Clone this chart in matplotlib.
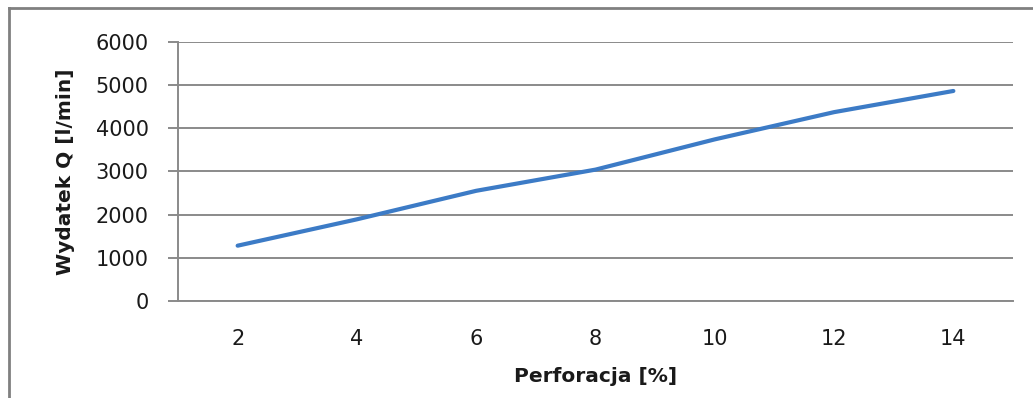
import matplotlib
matplotlib.use("Agg")
import matplotlib.pyplot as plt
from matplotlib.lines import Line2D

categories = ["2", "4", "6", "8", "10", "12", "14"]
values = [1280, 1890, 2550, 3040, 3740, 4370, 4860]
yticks = [0, 1000, 2000, 3000, 4000, 5000, 6000]
xlabel = "Perforacja [%]"
ylabel = "Wydatek Q [l/min]"

W, H = 1033, 398
fig = plt.figure(figsize=(W / 100, H / 100), dpi=100)
fig.patch.set_facecolor("white")
font = "DejaVu Sans"

ax = fig.add_axes([178 / W, 1 - 301 / H, (1013 - 178) / W, (301 - 41.7) / H])
x = list(range(len(categories)))
ax.plot(x, values, color="#3c7bc6", linewidth=3.0, solid_capstyle="round", zorder=3)
ax.set_xlim(-0.5, len(categories) - 0.5)
ax.set_ylim(0, 6000)
ax.set_yticks(yticks)
ax.set_yticklabels([str(v) for v in yticks], fontname=font, fontsize=15, color="#1a1a1a")
ax.set_xticks(x)
ax.set_xticklabels(categories, fontname=font, fontsize=15, color="#1a1a1a")
ax.grid(axis="y", color="#8a8a8a", linewidth=1.4, zorder=1)
ax.set_axisbelow(True)
for s in ["top", "right"]:
    ax.spines[s].set_visible(False)
ax.spines["left"].set_color("#8a8a8a")
ax.spines["left"].set_linewidth(1.4)
ax.spines["bottom"].set_color("#8a8a8a")
ax.spines["bottom"].set_linewidth(1.4)
ax.tick_params(axis="y", length=7, width=1.4, color="#8a8a8a", pad=14)
ax.tick_params(axis="x", length=0, pad=20)
ax.set_xlabel(xlabel, fontname=font, fontsize=14.5, fontweight="bold", color="#1a1a1a", labelpad=13)
ax.set_ylabel(ylabel, fontname=font, fontsize=14.5, fontweight="bold", color="#1a1a1a", labelpad=15)

# chart-area border (top and left visible in crop)
fig.add_artist(Line2D([9 / W, 1.0], [1 - 8 / H, 1 - 8 / H], transform=fig.transFigure, color="#808080", linewidth=2))
fig.add_artist(Line2D([9 / W, 9 / W], [0, 1 - 8 / H], transform=fig.transFigure, color="#808080", linewidth=2))

fig.savefig("out.png", dpi=100, facecolor="white")
